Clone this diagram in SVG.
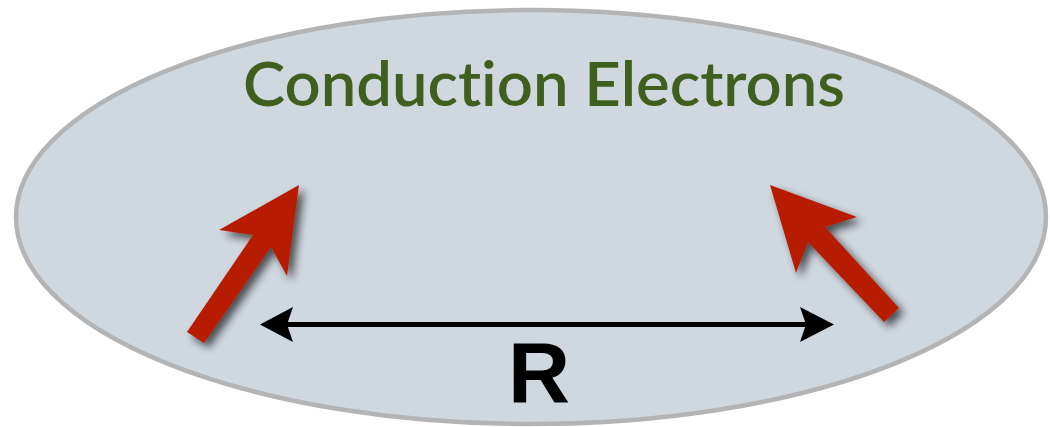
<svg xmlns="http://www.w3.org/2000/svg" width="1050" height="427" viewBox="0 0 1050 427">
  <defs>
    <style>
      .region { fill: #cfd7df; stroke: #b4b4b4; stroke-width: 4.5; }
      .title { font-family: "Lato", "Open Sans", "Liberation Sans", sans-serif; font-weight: 600; fill: #3e5f1e; font-variant-ligatures: none; }
      .label { font-family: "Liberation Sans", Arial, sans-serif; font-weight: bold; fill: #000000; }
      .spin { fill: #b81e00; filter: url(#shadow); }
      .dist { stroke: #000000; stroke-width: 5; fill: none; }
      .head { fill: #000000; }
    </style>
    <filter id="shadow" x="-30%" y="-30%" width="160%" height="160%">
      <feGaussianBlur in="SourceAlpha" stdDeviation="4"/>
      <feOffset dx="5" dy="5" result="blur"/>
      <feComponentTransfer><feFuncA type="linear" slope="0.65"/></feComponentTransfer>
      <feMerge><feMergeNode/><feMergeNode in="SourceGraphic"/></feMerge>
    </filter>
  </defs>

  <!-- electron sea -->
  <g id="electron-sea">
    <ellipse class="region" cx="531" cy="217" rx="515" ry="207"/>
    <text class="title" x="544" y="106" font-size="62" text-anchor="middle" textLength="602" lengthAdjust="spacingAndGlyphs">Conduction Electrons</text>
  </g>

  <!-- local moments -->
  <g id="spin-left">
    <polygon class="spin" points="187,332 253,235 219,230 299,185 287,276 271,247 204,343"/>
  </g>
  <g id="spin-right">
    <polygon class="spin" points="899,308 825,227 857,217 770,185 796,273 808,242 884,322"/>
  </g>

  <!-- separation R -->
  <g id="connectors">
    <line class="dist" x1="285" y1="324.5" x2="808" y2="324.5"/>
    <path class="head" d="M260,324.5 L293,307 L287,324.5 L293,342 Z"/>
    <path class="head" d="M834,324.5 L800,307 L806,324.5 L800,342 Z"/>
  </g>
  <g id="label-r">
    <text class="label" x="539" y="402" font-size="86" text-anchor="middle">R</text>
  </g>
</svg>
